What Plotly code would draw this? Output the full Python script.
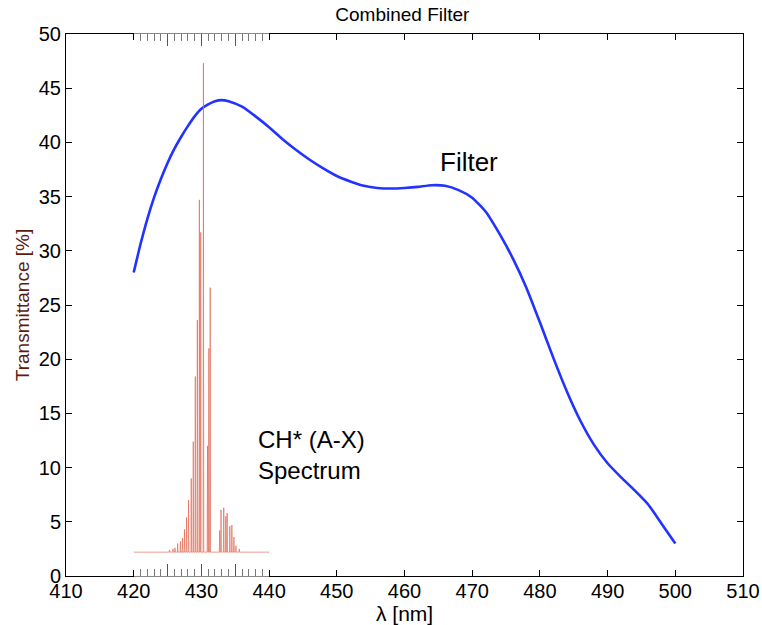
import plotly.graph_objects as go

# Filter transmittance curve
filter_wl = [420, 421, 422, 423, 424, 425, 426, 427, 428, 429, 430, 431, 432, 433, 434, 436, 438, 440,
             442, 444, 446, 448, 450, 452, 454, 456, 458, 460, 462, 464, 466, 468, 470, 472,
             474, 476, 478, 480, 482, 484, 486, 488, 490, 492, 494, 496, 498, 500]
filter_T = [28.0, 30.6, 32.9, 34.9, 36.6, 38.1, 39.4, 40.5, 41.5, 42.4, 43.1, 43.5, 43.8, 43.9, 43.8, 43.3, 42.4, 41.4,
            40.3, 39.3, 38.4, 37.6, 36.9, 36.4, 36.0, 35.8, 35.75, 35.8, 35.9, 36.05, 36.0, 35.6, 34.9, 33.6,
            31.6, 29.3, 26.6, 23.4, 20.1, 17.0, 14.3, 12.1, 10.4, 9.1, 7.9, 6.6, 4.8, 3.0]

# CH* (A-X) emission spectrum: line positions and peak heights (plotted on the same % scale)
spec_range = [420, 440]
spec_base = 2.2
line_wl = [425.3, 425.8, 426.1, 426.5, 426.9, 427.2, 427.5, 427.8, 428.1, 428.5, 428.8, 429.1, 429.4,
           429.7, 429.9, 430.3, 430.9, 431.1, 431.3, 432.7, 432.9, 433.3, 433.6, 433.8, 434.2, 434.5,
           434.8, 435.1, 435.6]
line_h = [2.4, 2.5, 2.6, 3.0, 3.2, 3.5, 4.3, 5.4, 7.0, 9.0, 12.4, 18.4, 23.6,
          34.7, 31.7, 47.3, 12.0, 21.0, 26.6, 4.2, 6.1, 6.3, 5.5, 5.8, 4.6, 4.7,
          3.6, 2.8, 2.5]

x_ticks = [410, 420, 430, 440, 450, 460, 470, 480, 490, 500, 510]
y_ticks = [0, 5, 10, 15, 20, 25, 30, 35, 40, 45, 50]
inset_ticks = [420, 425, 430, 435, 440]

# build spectrum line profile from the peak list
w = 0.05
sx, sy = [spec_range[0]], [spec_base]
for p, h in zip(line_wl, line_h):
    sx += [p - w, p, p + w]
    sy += [spec_base, h, spec_base]
sx.append(spec_range[1])
sy.append(spec_base)

font = "Liberation Sans, Arial, sans-serif"

fig = go.Figure()
fig.add_trace(go.Scatter(x=sx, y=sy, mode="lines", xaxis="x2", yaxis="y",
                         line=dict(color="rgba(222,100,78,0.65)", width=1), hoverinfo="skip",
                         showlegend=False))
fig.add_trace(go.Scatter(x=filter_wl, y=filter_T, mode="lines",
                         line=dict(color="#2233ff", width=2.6, shape="spline", smoothing=0.5),
                         showlegend=False))

fig.update_layout(
    width=762, height=625,
    margin=dict(l=66, r=19, t=34, b=49, autoexpand=False),
    paper_bgcolor="white", plot_bgcolor="rgba(0,0,0,0)",
    font=dict(family=font, color="black", size=20),
    title=dict(text="Combined Filter", x=0.528, xanchor="center", y=0.977, yanchor="middle",
               font=dict(size=19, family=font)),
    xaxis=dict(range=[410, 510], tickvals=x_ticks, ticks="inside", ticklen=6, tickcolor="black",
               showline=True, linecolor="black", linewidth=1, mirror="ticks", showgrid=False,
               zeroline=False, tickfont=dict(size=20), automargin=False, ticklabelstandoff=-3),
    xaxis2=dict(range=spec_range, domain=[0.1, 0.3], anchor="y", tickvals=inset_ticks,
                ticks="inside", ticklen=12, tickcolor="#555", showticklabels=False,
                showline=True, linecolor="#888", linewidth=1, mirror="ticks", showgrid=False,
                zeroline=False, automargin=False,
                minor=dict(dtick=1, ticks="inside", ticklen=7, tickcolor="#777", showgrid=False)),
    yaxis=dict(range=[0, 50], tickvals=y_ticks, ticks="inside", ticklen=6, tickcolor="black",
               showline=True, linecolor="black", linewidth=1, mirror="ticks", showgrid=False,
               zeroline=False, tickfont=dict(size=20), automargin=False,
               title=dict(text="Transmittance [%]", font=dict(size=19, color="#5c1a10"), standoff=4)),
    annotations=[
        dict(x=0.5, y=-0.069, xref="paper", yref="paper", text="λ [nm]", showarrow=False,
             xanchor="center", yanchor="middle", font=dict(size=21, family=font)),
        dict(x=465.0, y=38.2, xref="x", yref="y", text="Filter", showarrow=False,
             xanchor="left", yanchor="middle", font=dict(size=26, family=font)),
        dict(x=438.0, y=11.2, xref="x", yref="y", text="CH* (A-X)<br>Spectrum", showarrow=False,
             xanchor="left", yanchor="middle", align="left", font=dict(size=24, family=font)),
    ],
)

fig.write_html("out.html")
